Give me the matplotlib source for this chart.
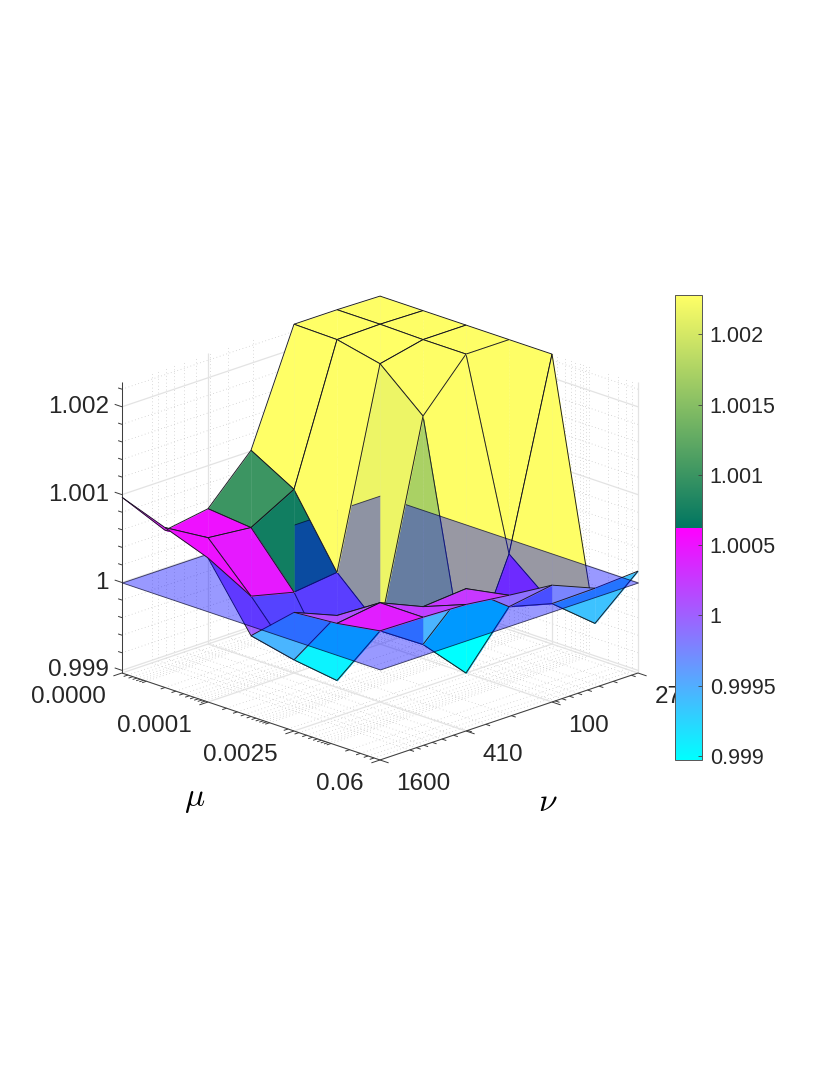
import numpy as np
import matplotlib
matplotlib.use('Agg')
import matplotlib.pyplot as plt
from matplotlib.colors import LinearSegmentedColormap, Normalize
from matplotlib.cm import ScalarMappable
from mpl_toolkits.mplot3d import proj3d
from mpl_toolkits.mplot3d.art3d import Poly3DCollection, Line3DCollection

plt.rcParams['font.family'] = ['Liberation Sans', 'DejaVu Sans']
plt.rcParams['mathtext.fontset'] = 'cm'

# ---- data -------------------------------------------------------------
mu_labels = ['0.0000', '0.0001', '0.0025', '0.06']
nu_labels = ['1600', '410', '100', '27']
z_labels = ['0.999', '1', '1.001', '1.002']
z_ticks = [0.999, 1.0, 1.001, 1.002]
cb_ticks = [0.999, 0.9995, 1.0, 1.0005, 1.001, 1.0015, 1.002]
cb_labels = ['0.999', '0.9995', '1', '1.0005', '1.001', '1.0015', '1.002']
plane_level = 1.0
row0 = [1.00097, 1.00043, 1.00051, 1.00101, 1.00228, 1.00228, 1.00227]
row1 = [1.00079, 1.00051, 1.00046, 1.00073, 1.00227, 1.00228, 1.00227]
row2 = [1.00061, 1.00001, 0.99989, 0.99995, 1.00216, 1.00227, 1.00227]
row3 = [0.99989, 0.99945, 0.99905, 0.99949, 1.00173, 1.00227, 1.00227]
row4 = [1.00032, 1.00012, 0.99978, 0.99946, 0.99897, 1.00016, 1.00227]
row5 = [1.00036, 1.00043, 1.00022, 1.00026, 0.99989, 0.99976, 0.99937]
row6 = [1.00044, 1.00043, 1.00041, 1.00035, 1.00030, 1.00010, 1.00013]
Z = np.array([row0, row1, row2, row3, row4, row5, row6])

# ---- appearance --------------------------------------------------------
zmin, zmax = 0.99897, 1.00228
fs_axis, fs_cb = 17.5, 15.5
text_col = '#262626'
brk = (1.000623 - zmin) / (zmax - zmin)
cmap = LinearSegmentedColormap('mix', {
    'red':   [(0, 0, 0), (brk, 1, 0), (1, 1, 1)],
    'green': [(0, 1, 1), (brk, 0, 0.46), (1, 1, 1)],
    'blue':  [(0, 1, 1), (brk, 1, 0.38), (1, 0.40, 0.40)]}, N=512)
norm = Normalize(zmin, zmax)

fig = plt.figure(figsize=(8.3, 10.75), dpi=100)
ax = fig.add_axes([0, 0, 1, 1], projection='3d', computed_zorder=False)
ax.patch.set_alpha(0)
ax.set_proj_type('ortho')
ax.view_init(elev=19.7, azim=-45)
ax.set_box_aspect((365, 365, 309), zoom=1.0)

n = len(row0)
cells = [(i, j) for i in range(n - 1) for j in range(n - 1)]

# which pieces the translucent plane is painted over (in the source's paint order)
under_both = {(2, 0), (2, 1), (2, 2), (3, 0), (3, 1), (3, 2), (3, 3), (3, 4), (3, 5),
              (4, 3), (4, 4), (4, 5), (5, 5)}
under_right = {(1, 2)}
under_left = {(2, 3), (4, 2), (5, 4)}

zo = [10]


def add_piece(i, j, side):
    A, B, C, D = (i, j), (i + 1, j), (i + 1, j + 1), (i, j + 1)
    tri = [A, B, D] if side == 'L' else [B, C, D]
    edges = [(A, B), (A, D)] if side == 'L' else [(B, C), (C, D)]
    p3 = lambda q: (q[0], q[1], Z[q])
    col = cmap(norm(Z[i, j + 1]))
    poly = Poly3DCollection([[p3(q) for q in tri]], facecolors=[col], edgecolors=[col], linewidths=0.3)
    poly.set_zorder(zo[0])
    ax.add_collection3d(poly)
    zo[0] += 1
    segs = Line3DCollection([[p3(a), p3(b)] for a, b in edges], colors='#181820', linewidths=0.65)
    segs.set_zorder(zo[0])
    ax.add_collection3d(segs)
    zo[0] += 1


def is_under(c, side):
    return c in under_both or (side == 'R' and c in under_right) or (side == 'L' and c in under_left)


order = sorted(cells, key=lambda c: (c[0] - c[1], c[0]))
for c in order:
    for side in 'LR':
        if is_under(c, side):
            add_piece(c[0], c[1], side)

plane = Poly3DCollection([[(0, 0, plane_level), (6, 0, plane_level), (6, 6, plane_level), (0, 6, plane_level)]],
                         facecolors=[(0, 0, 1, 0.4)], edgecolors=[(0, 0, 0.15, 0.7)], linewidths=0.65)
plane.set_zorder(zo[0])
ax.add_collection3d(plane)
zo[0] += 1

for c in order:
    for side in 'LR':
        if not is_under(c, side):
            add_piece(c[0], c[1], side)

# ---- scales -------------------------------------------------------------
ax.set_xlim(0, 6, view_margin=0)
ax.set_ylim(0, 6, view_margin=0)
ax.set_zlim(zmin, zmax, view_margin=0)
major_idx = [0, 2, 4, 6]
ax.set_xticks(major_idx, mu_labels)
ax.set_yticks(major_idx, nu_labels)
ax.set_zticks(z_ticks, z_labels)
ax.grid(False)
for a in (ax.xaxis, ax.yaxis, ax.zaxis):
    a.pane.set_visible(False)
    a.line.set_visible(False)
ax.zaxis.set_ticks_position('lower')
ax.tick_params(axis='x', pad=12.0, labelsize=fs_axis, labelcolor=text_col, color=(0, 0, 0, 0))
ax.tick_params(axis='y', pad=12.0, labelsize=fs_axis, labelcolor=text_col, color=(0, 0, 0, 0))
ax.tick_params(axis='z', pad=0.0, labelsize=fs_axis, labelcolor=text_col, color=(0, 0, 0, 0))
for t in ax.get_xticklabels():
    t.set_ha('right')
    t.set_va('center')
for t in ax.get_yticklabels():
    t.set_ha('left')
    t.set_va('center')
for t in ax.get_zticklabels():
    t.set_ha('right')
    t.set_va('center')
ax.xaxis.set_rotate_label(False)
ax.yaxis.set_rotate_label(False)
ax.set_xlabel(r'$\mu$', fontsize=24, labelpad=47)
ax.yaxis._axinfo['label']['ha'] = 'right'
ax.yaxis._axinfo['label']['va'] = 'top'
ax.set_ylabel(r'$\nu$', fontsize=24, labelpad=37)
ax.set_zlabel('')

# log-spaced minor divisions, in cell-index coordinates
mu_vals = np.array([m * 10.0 ** k for k in range(-6, -1) for m in range(1, 10)])
mu_minor = 2 + 2 * np.log(mu_vals / 1e-4) / np.log(25)
mu_minor = [v for v in mu_minor if 0.03 < v < 5.97 and min(abs(v - q) for q in major_idx) > 0.03]
nu_vals = np.array([m * 10.0 ** k for k in range(1, 4) for m in range(1, 10)])
nu_minor = 6 * (np.log(1600) - np.log(nu_vals)) / (np.log(1600) - np.log(27))
nu_minor = [v for v in nu_minor if 0.03 < v < 5.97 and min(abs(v - q) for q in major_idx) > 0.03]
z_minor = [v for v in np.arange(0.999, 1.0023, 0.0002) if min(abs(v - q) for q in z_ticks) > 1e-6]


def grid_segments(xs, ys, zs):
    segs = []
    for v in xs:
        segs.append([(v, 0, zmin), (v, 6, zmin)])
        segs.append([(v, 6, zmin), (v, 6, zmax)])
    for v in ys:
        segs.append([(0, v, zmin), (6, v, zmin)])
        segs.append([(0, v, zmin), (0, v, zmax)])
    for v in zs:
        segs.append([(0, 0, v), (0, 6, v)])
        segs.append([(0, 6, v), (6, 6, v)])
    return segs


gmin = Line3DCollection(grid_segments(mu_minor, nu_minor, z_minor), colors='#c4c4c4',
                        linewidths=0.55, linestyles=[(0, (1, 3.5))])
gmin.set_zorder(1)
ax.add_collection3d(gmin)
gmaj = Line3DCollection(grid_segments(major_idx, major_idx, z_ticks), colors='#e3e3e3', linewidths=0.9)
gmaj.set_zorder(2)
ax.add_collection3d(gmaj)

# axis lines and tick marks
axcol = '#3a3a3a'
lines = [[(0, 0, zmin), (6, 0, zmin)], [(6, 0, zmin), (6, 6, zmin)], [(0, 0, zmin), (0, 0, zmax)]]
for v in major_idx:
    lines.append([(v, 0, zmin), (v, -0.2, zmin)])
    lines.append([(6, v, zmin), (6.2, v, zmin)])
for v in mu_minor:
    lines.append([(v, 0, zmin), (v, -0.1, zmin)])
for v in nu_minor:
    lines.append([(6, v, zmin), (6.1, v, zmin)])
for v in z_ticks:
    lines.append([(0, 0, v), (-0.17, 0, v)])
for v in z_minor:
    lines.append([(0, 0, v), (-0.09, 0, v)])
axl = Line3DCollection(lines, colors=axcol, linewidths=0.7)
axl.set_zorder(5)
ax.add_collection3d(axl)
ax.set_xlim(0, 6, view_margin=0)
ax.set_ylim(0, 6, view_margin=0)
ax.set_zlim(zmin, zmax, view_margin=0)


# fit the projected box onto the reference's pixel positions
def to_px(x, y, z):
    X, Y, _ = proj3d.proj_transform(x, y, z, ax.get_proj())
    return ax.transData.transform((X, Y))


fig.canvas.draw()
width = to_px(6, 0, zmin)[0] - to_px(0, 0, zmin)[0]
ax.set_box_aspect((365, 365, 309), zoom=258.0 / width)
fig.canvas.draw()
L = to_px(0, 0, zmin)
ax.set_position([(122 - L[0]) / 830, ((1075 - 673) - L[1]) / 1075, 1, 1])

# ---- colour bar ---------------------------------------------------------
cax = fig.add_axes([675 / 830, (1075 - 760) / 1075, 27 / 830, 465 / 1075])
cb = fig.colorbar(ScalarMappable(norm=norm, cmap=cmap), cax=cax)
cb.set_ticks(cb_ticks, labels=cb_labels)
cb.ax.tick_params(direction='in', length=3, width=0.6, color='#404040', labelsize=fs_cb,
                  labelcolor=text_col, pad=5.5)
cb.ax.minorticks_off()
cb.outline.set_edgecolor('#555555')
cb.outline.set_linewidth(0.7)

fig.savefig('out.png', dpi=100)
